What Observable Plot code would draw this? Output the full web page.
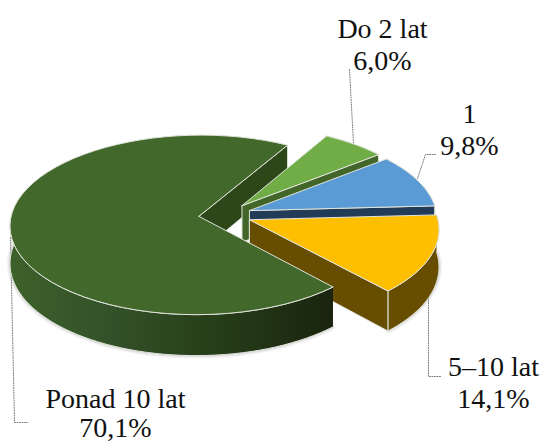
<!DOCTYPE html>
<html><head><meta charset="utf-8">
<script src="https://cdn.jsdelivr.net/npm/d3@7"></script>
<script src="https://cdn.jsdelivr.net/npm/@observablehq/plot@0.6"></script>
<style>html,body{margin:0;padding:0;background:#fff;overflow:hidden}</style>
</head><body><div id="c"></div>
<script>
// ---- data
const categories = ["Do 2 lat", "1", "5–10 lat", "Ponad 10 lat"];
const shares = [6.0, 9.8, 14.1, 70.1];
const valueLabels = ["6,0%", "9,8%", "14,1%", "70,1%"];

// ---- view (3D pie camera)
const W = 543, H = 443;
const firstSliceAngle = 30;            // degrees clockwise from "north"
const centre = {x: 224.5, y: 214.5};
const radiusX = 187.5, radiusY = 88.7; // foreshortened radii
const perspective = 0.095, depth = 37, explode = 0.14;
const lastVisibleWallAngle = 285;      // the outer wall behind this angle is hidden

// ---- styles
const topFill  = ["#70ad47", "#5b9bd5", "#fdbf00", "#43682b"];
const wallFill = ["#42662a", "#223c57", "#664d00", "url(#mainWall)"];
const innerFill = ["#42662a", "#223c57", "#664d00", "#2d4719"];
const edge = "#dfe3da";
const font = "'Liberation Serif', serif";
const labelX = [382, 469, 493, 115];
const categoryY = [29, 114, 367, 399];
const valueY = [61, 146, 399, 428];
const leaders = [
  [[349, 69], [353, 143]],
  [[435, 154], [425, 154], [417, 178]],
  [[428, 297], [428, 376], [440, 376]],
  [[10, 237], [14, 422], [27, 422]]
];

// ---- geometry from the values
const project = (u, v, z = 0) => {
  const s = 1 / (1 + perspective * v);
  return [centre.x + radiusX * u * s, centre.y - radiusY * v * s + depth * s * z];
};
let cursor = firstSliceAngle;
const slices = shares.map((share, i) => {
  const a0 = cursor, a1 = cursor + share * 3.6;
  cursor = a1;
  const mid = (a0 + a1) / 2 * Math.PI / 180;
  return {i, a0, a1, ox: explode * Math.sin(mid), oy: explode * Math.cos(mid)};
});
const rim = (s, z, to = s.a1) => d3.range(0, 61).map(k => {
  const a = (s.a0 + (to - s.a0) * k / 60) * Math.PI / 180;
  return project(s.ox + Math.sin(a), s.oy + Math.cos(a), z);
});
const apex = (s, z) => project(s.ox, s.oy, z);
const topFace = s => [apex(s, 0), ...rim(s, 0), apex(s, 0)];
const outerWall = (s, to = s.a1) => [...rim(s, 0, to), ...rim(s, 1, to).reverse()];
const cutWall = s => {
  const r0 = rim(s, 0), r1 = rim(s, 1);
  const k = r0.length - 1;
  return [apex(s, 0), r0[k], r1[k], apex(s, 1), apex(s, 0)];
};

const poly = (pts, fill, stroke = edge, w = 1) =>
  Plot.line(pts, {x: d => d[0], y: d => d[1], fill, stroke, strokeWidth: w, curve: "linear", strokeLinejoin: "round"});
const shadow = (pts) =>
  Plot.line(pts, {x: d => d[0], y: d => d[1], fill: "none", stroke: "#8a8a8a", strokeWidth: 2, curve: "linear",
                  imageFilter: "blur(1.5px)", strokeOpacity: 0.6});

const [green, blue, yellow, main] = slices;
const sliceMarks = s => [
  shadow(rim(s, 1)),
  poly(outerWall(s), wallFill[s.i]),
  poly(cutWall(s), innerFill[s.i]),
  poly(topFace(s), topFill[s.i])
];
const table = [
  ...categories.map((c, i) => ({text: c, x: labelX[i], y: categoryY[i]})),
  ...valueLabels.map((c, i) => ({text: c, x: labelX[i], y: valueY[i]}))
];

const gradient = () => {
  const ns = "http://www.w3.org/2000/svg";
  const defs = document.createElementNS(ns, "defs");
  const g = document.createElementNS(ns, "linearGradient");
  g.setAttribute("id", "mainWall");
  [["0%", "#3e612a"], ["30%", "#33522a"], ["60%", "#28401a"], ["100%", "#19240e"]].forEach(([o, c]) => {
    const st = document.createElementNS(ns, "stop");
    st.setAttribute("offset", o); st.setAttribute("stop-color", c);
    g.appendChild(st);
  });
  defs.appendChild(g);
  return defs;
};

const chart = Plot.plot({
  width: W, height: H, margin: 0,
  x: {domain: [0, W], range: [0, W], axis: null},
  y: {domain: [0, H], range: [0, H], axis: null},
  style: {background: "#fff"},
  marks: [
    gradient,
    ...leaders.map(l => Plot.line(l, {x: d => d[0], y: d => d[1], stroke: "#7a7a7a", strokeWidth: 1, strokeDasharray: "1 1.5", curve: "linear"})),
    poly(cutWall(main), innerFill[3]),
    ...sliceMarks(green),
    ...sliceMarks(blue),
    ...sliceMarks(yellow),
    shadow(rim(main, 1, lastVisibleWallAngle)),
    poly(outerWall(main, lastVisibleWallAngle), wallFill[3]),
    poly(topFace(main), topFill[3]),
    Plot.text(table, {x: "x", y: "y", text: "text", fontFamily: font, fontSize: 28, fill: "#111", lineAnchor: "middle", textAnchor: "middle"})
  ]
});
document.getElementById("c").appendChild(chart);
</script></body></html>
